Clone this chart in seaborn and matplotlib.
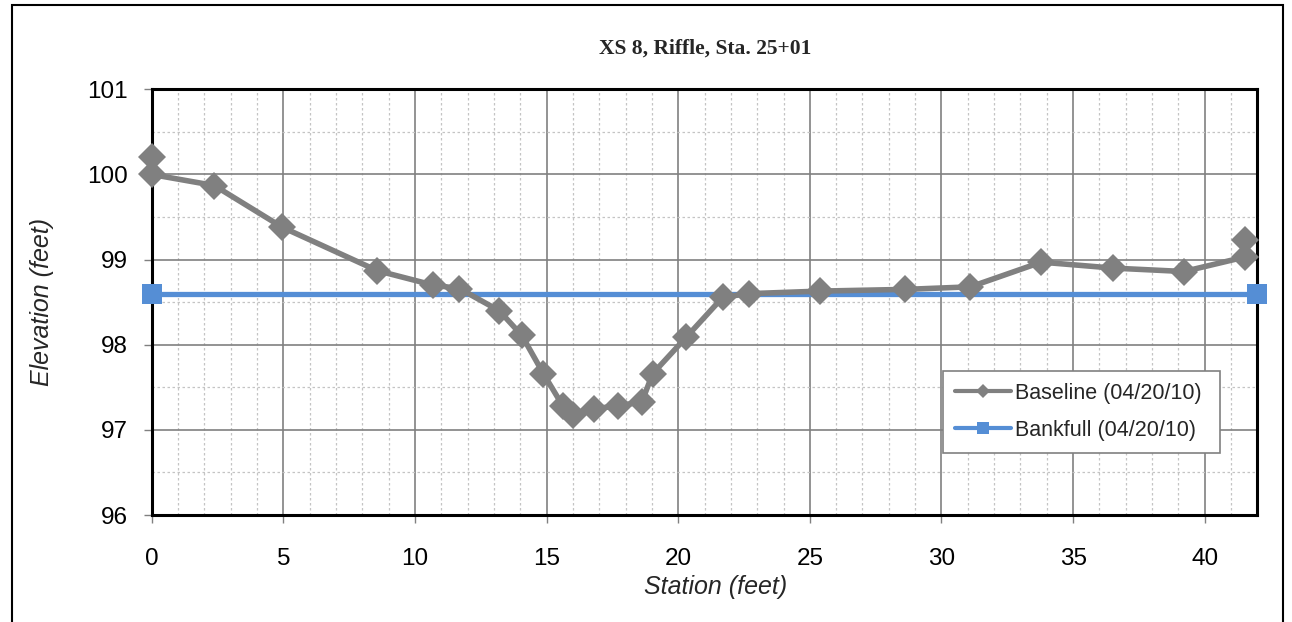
import matplotlib
matplotlib.use("Agg")
import matplotlib.pyplot as plt
from matplotlib.lines import Line2D
from matplotlib.patches import Rectangle
from matplotlib.ticker import MultipleLocator
import seaborn as sns
import pandas as pd

# Surveyed cross-section (station, elevation) in feet
station = [0, 0, 2.38, 4.96, 8.57, 10.7, 11.69, 13.2, 14.06, 14.88, 15.62, 16.0,
           16.81, 17.7, 18.62, 19.03, 20.31, 21.7, 22.7, 25.39, 28.62, 31.1,
           33.79, 36.53, 39.21, 41.52, 41.52]
elevation = [100.2, 100.0, 99.87, 99.38, 98.87, 98.70, 98.66, 98.4, 98.11, 97.66,
             97.28, 97.17, 97.25, 97.28, 97.33, 97.66, 98.09, 98.56, 98.6, 98.63,
             98.65, 98.68, 98.97, 98.90, 98.86, 99.03, 99.23]

# Bankfull stage line
bankfull_station = [0, 42]
bankfull_elev = [98.6, 98.6]

series_labels = ["Baseline (04/20/10)", "Bankfull (04/20/10)"]
title_text = "XS 8, Riffle, Sta. 25+01"
x_label = "Station (feet)"
y_label = "Elevation (feet)"

GRAY = "#808080"
BLUE = "#558ED5"

sns.set_theme(style="white")
plt.rcParams["font.family"] = ["Liberation Sans", "DejaVu Sans"]

fig = plt.figure(figsize=(12.92, 6.22), dpi=100)
ax = fig.add_axes([0.1174, 0.172, 0.8558, 0.6844])

base_df = pd.DataFrame({"station": station, "elevation": elevation})
bank_df = pd.DataFrame({"station": bankfull_station, "elevation": bankfull_elev})

sns.lineplot(data=bank_df, x="station", y="elevation", ax=ax, estimator=None,
             sort=False, color=BLUE, linewidth=3.8, marker="s", markersize=15,
             markeredgewidth=0, zorder=3, clip_on=False)
sns.lineplot(data=base_df, x="station", y="elevation", ax=ax, estimator=None,
             sort=False, color=GRAY, linewidth=4.0, marker="D", markersize=14,
             markeredgewidth=0, zorder=4, clip_on=False)

ax.set_xlim(0, 42)
ax.set_ylim(96, 101)
ax.xaxis.set_major_locator(MultipleLocator(5))
ax.xaxis.set_minor_locator(MultipleLocator(1))
ax.yaxis.set_major_locator(MultipleLocator(1))
ax.yaxis.set_minor_locator(MultipleLocator(0.5))

ax.grid(which="major", color=GRAY, linewidth=1.2, linestyle="-", zorder=0)
ax.grid(which="minor", color="#c4c4c4", linewidth=0.9, linestyle=(0, (2, 2)), zorder=0)
ax.set_axisbelow(True)

ax.tick_params(which="major", direction="out", length=6, width=1, color=GRAY,
               labelsize=17.5, labelcolor="black", bottom=True, left=True)
ax.tick_params(axis="x", which="major", pad=18)
ax.tick_params(axis="y", which="major", pad=11)
ax.tick_params(which="minor", length=0)

for side in ["left", "right", "top", "bottom"]:
    ax.spines[side].set_visible(True)
    ax.spines[side].set_color("black")
    ax.spines[side].set_linewidth(2.2)

ax.set_xlabel(x_label, fontsize=18, style="italic")
ax.set_ylabel(y_label, fontsize=18, style="italic")
ax.xaxis.set_label_coords(0.51, -0.141)
ax.yaxis.set_label_coords(-0.088, 0.5)

fig.text(0.546, 0.922, title_text, ha="center", va="center", fontsize=15.5,
         fontweight="bold", family=["Liberation Serif", "DejaVu Serif"])

handles = [
    Line2D([], [], color=GRAY, linewidth=3, marker="D", markersize=7, markeredgewidth=0),
    Line2D([], [], color=BLUE, linewidth=3, marker="s", markersize=9, markeredgewidth=0),
]
leg = ax.legend(handles, series_labels, loc="lower left",
                bbox_to_anchor=(0.716, 0.146, 0.25, 0.194), mode="expand",
                fontsize=15.5, frameon=True, fancybox=False, borderpad=0.55,
                labelspacing=0.75, handlelength=2.6, handletextpad=0.2,
                borderaxespad=0)
leg.get_frame().set_edgecolor(GRAY)
leg.get_frame().set_linewidth(1.2)
leg.get_frame().set_facecolor("white")
leg.get_frame().set_alpha(1)

# Chart-area frame
fig.patches.append(Rectangle((12 / 1292, -0.01), (1283 - 12) / 1292, 1 - 5 / 622 + 0.01,
                             transform=fig.transFigure, fill=False,
                             edgecolor="black", linewidth=1.5))

fig.savefig("out.png", dpi=100)
